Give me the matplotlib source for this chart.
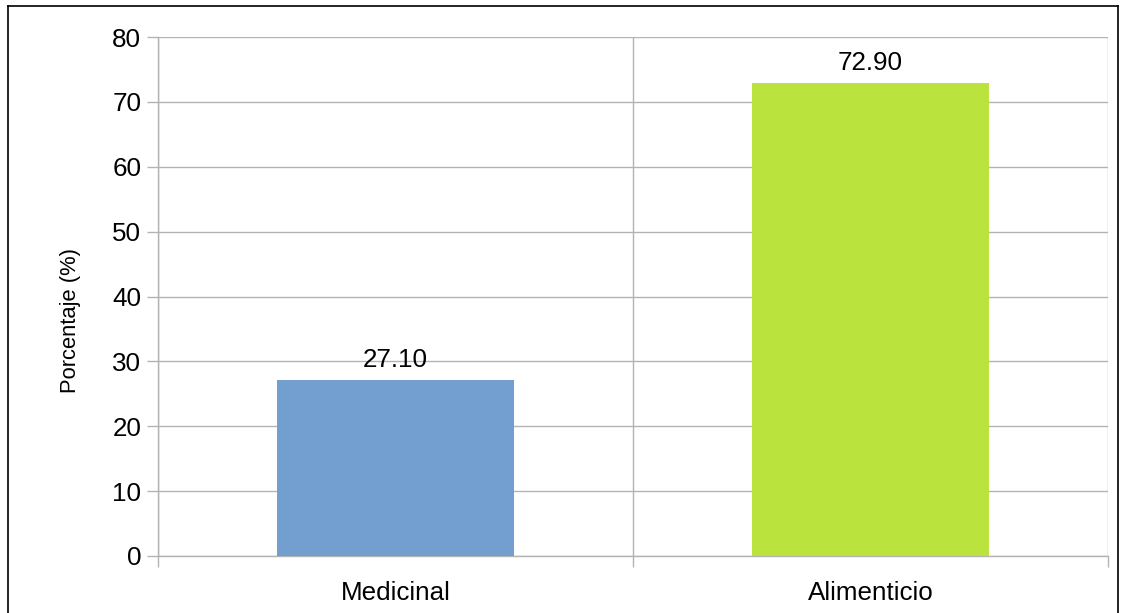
import matplotlib
matplotlib.use("Agg")
import matplotlib.pyplot as plt
from matplotlib.lines import Line2D

plt.rcParams['font.family'] = ['Liberation Sans', 'DejaVu Sans']

categorias = ["Medicinal", "Alimenticio"]
porcentajes = [27.10, 72.90]
colores = ["#729fcf", "#bbe33d"]
y_ticks = [0, 10, 20, 30, 40, 50, 60, 70, 80]

gris = "#b3b3b3"

fig = plt.figure(figsize=(11.23, 6.13), dpi=100)
ax = fig.add_axes([0.1407, 0.0930, 0.8459, 0.8466])

x = list(range(len(categorias)))
bars = ax.bar(x, porcentajes, width=0.5, color=colores, zorder=3)

for b, v in zip(bars, porcentajes):
    ax.annotate(f"{v:.2f}", (b.get_x() + b.get_width() / 2, v),
                xytext=(0, 6), textcoords="offset points",
                ha="center", va="bottom", fontsize=18.7, zorder=4)

ax.set_xlim(-0.5, len(categorias) - 0.5)
ax.set_ylim(0, 80)
ax.set_yticks(y_ticks)
ax.set_xticks(x)
ax.set_xticklabels(categorias, fontsize=18.7)
ax.set_xticks([i - 0.5 for i in range(len(categorias) + 1)], minor=True)

ax.tick_params(axis="y", labelsize=18.7, length=8, width=1, color=gris, pad=4)
ax.tick_params(axis="x", which="major", length=0, pad=18)
ax.tick_params(axis="x", which="minor", length=8, width=1, color=gris)

ax.grid(axis="y", color=gris, linewidth=1, zorder=0)
ax.grid(axis="x", which="minor", color=gris, linewidth=1, zorder=0)
ax.set_axisbelow(True)

for s in ["top", "right"]:
    ax.spines[s].set_visible(False)
for s in ["left", "bottom"]:
    ax.spines[s].set_color(gris)
    ax.spines[s].set_linewidth(1)

ax.set_ylabel("Porcentaje (%)", fontsize=15.8)
ax.yaxis.set_label_coords(-0.081, 0.453)

# marco exterior
for xs, ys in [([0.0075, 0.0075], [0, 0.991]),
               ([0.0075, 0.9955], [0.991, 0.991]),
               ([0.9955, 0.9955], [0, 0.991])]:
    fig.add_artist(Line2D(xs, ys, color="black", linewidth=1.2,
                          transform=fig.transFigure))

fig.savefig("out.png", dpi=100)
